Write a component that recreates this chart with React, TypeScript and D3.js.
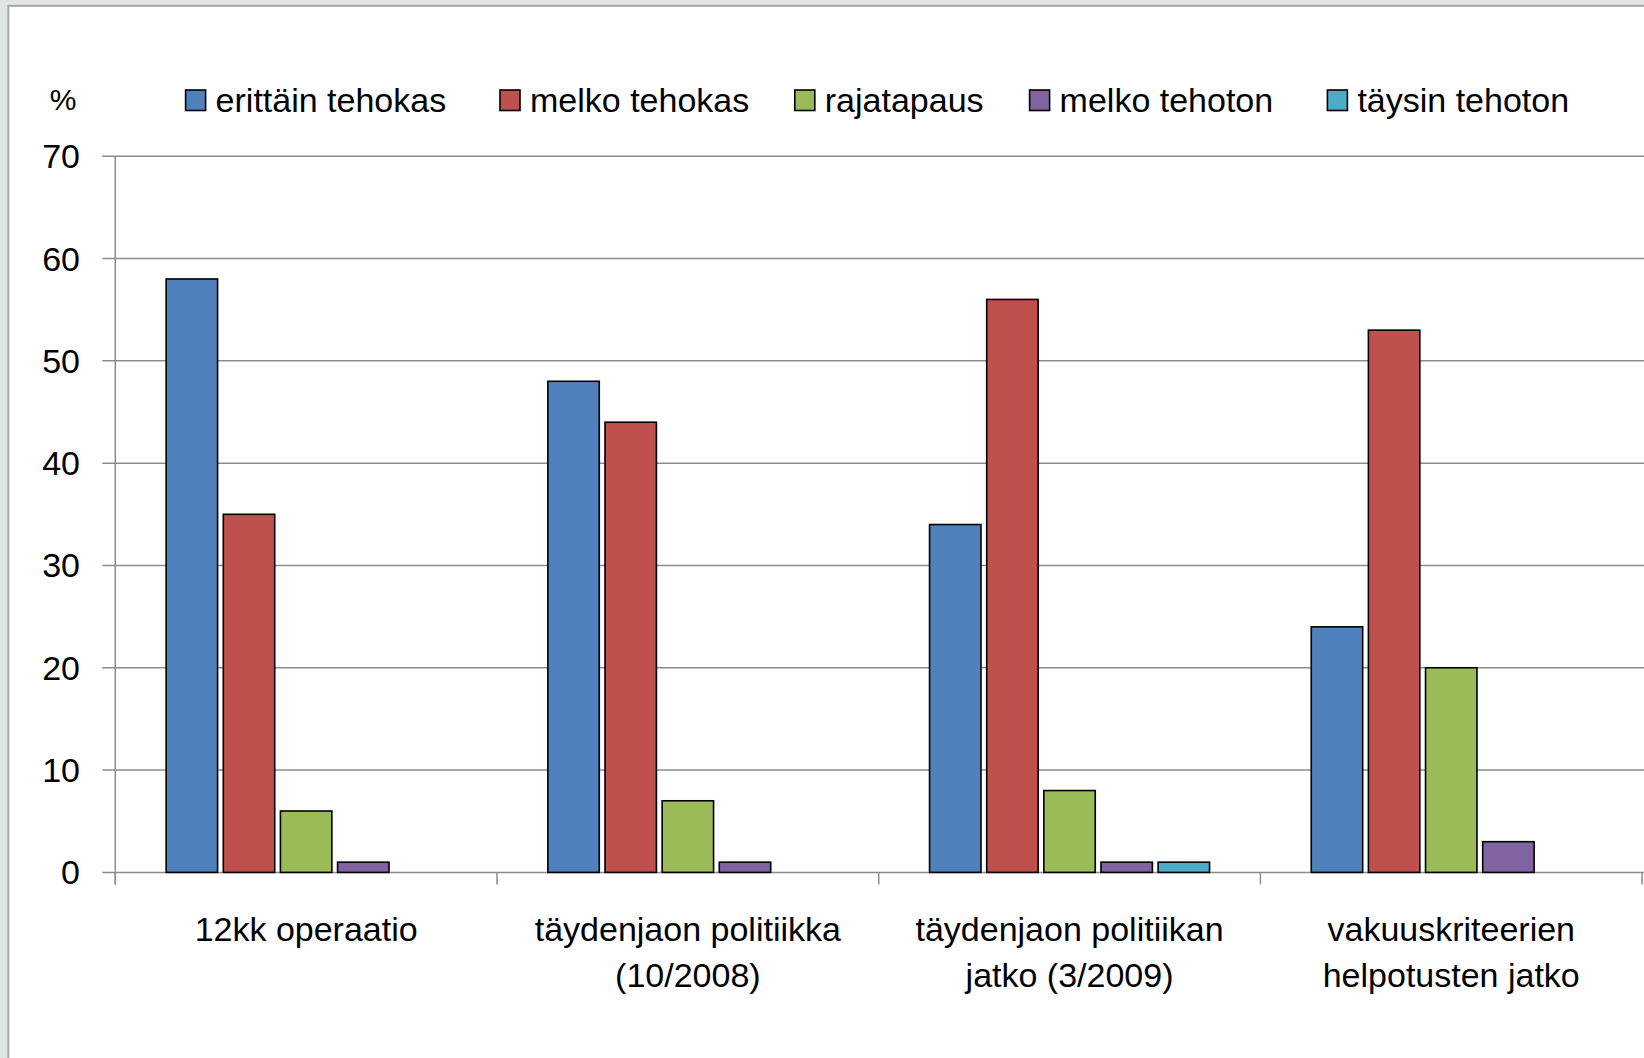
import React from "react";
import * as d3 from "d3";

const categories: string[][] = [
  ["12kk operaatio"],
  ["täydenjaon politiikka", "(10/2008)"],
  ["täydenjaon politiikan", "jatko (3/2009)"],
  ["vakuuskriteerien", "helpotusten jatko"],
];
const seriesNames = ["erittäin tehokas", "melko tehokas", "rajatapaus", "melko tehoton", "täysin tehoton"];
const seriesColors = ["#4f81bd", "#c0504d", "#9bbb59", "#8064a2", "#4bacc6"];
const erittainTehokas = [58, 48, 34, 24];
const melkoTehokas = [35, 44, 56, 53];
const rajatapaus = [6, 7, 8, 20];
const melkoTehoton = [1, 1, 1, 3];
const taysinTehoton = [0, 0, 1, 0];
const yTicks = [0, 10, 20, 30, 40, 50, 60, 70];
const legendX = [185.6, 500, 794.8, 1029.6, 1327.4];

const W = 1644;
const H = 1058;
const FONT = "'Liberation Sans', Arial, sans-serif";

export default function App() {
  const values = [erittainTehokas, melkoTehokas, rajatapaus, melkoTehoton, taysinTehoton];
  const left = 115.3;
  const catW = 381.7;
  const x = d3.scaleBand<number>().domain(d3.range(categories.length)).range([left, left + catW * categories.length]).padding(0);
  const inner = d3.scaleBand<number>().domain(d3.range(seriesNames.length)).range([0, x.bandwidth()]).paddingInner(0.1).paddingOuter(0.89);
  const y = d3.scaleLinear().domain([0, 70]).range([872.4, 156.2]);
  const y0 = y(0);

  return (
    <svg width={W} height={H} style={{ position: "absolute", left: 0, top: 0, display: "block" }} fontFamily={FONT}>
      <rect x={0} y={0} width={W} height={H} fill="#e3e5e4" />
      <rect x={8.4} y={5.8} width={W + 20} height={H + 20} fill="#ffffff" stroke="#a6a6a6" strokeWidth={2} />
      {/* gridlines */}
      {yTicks.map((t) => (
        <line key={"g" + t} x1={left - 13} x2={W} y1={y(t)} y2={y(t)} stroke="#8c8c8c" strokeWidth={1.5} />
      ))}
      {/* y axis */}
      <line x1={left} x2={left} y1={y(70)} y2={y0 + 12} stroke="#8c8c8c" strokeWidth={1.5} />
      {/* x ticks */}
      {d3.range(categories.length + 1).map((i) => (
        <line key={"xt" + i} x1={left + catW * i} x2={left + catW * i} y1={y0} y2={y0 + 12} stroke="#8c8c8c" strokeWidth={1.5} />
      ))}
      {/* y labels */}
      {yTicks.map((t) => (
        <text key={"yl" + t} x={80} y={y(t)} textAnchor="end" dominantBaseline="central" fontSize={34} fill="#000">
          {t}
        </text>
      ))}
      {/* bars */}
      {values.map((vals, s) =>
        vals.map((v, c) =>
          v > 0 ? (
            <rect
              key={`b${s}-${c}`}
              x={(x(c) as number) + (inner(s) as number)}
              y={y(v)}
              width={inner.bandwidth()}
              height={y0 - y(v)}
              fill={seriesColors[s]}
              stroke="#000"
              strokeWidth={1.6}
            />
          ) : null
        )
      )}
      {/* category labels */}
      {categories.map((lines, c) =>
        lines.map((ln, li) => (
          <text
            key={`c${c}-${li}`}
            x={(x(c) as number) + x.bandwidth() / 2}
            y={929 + li * 46}
            textAnchor="middle"
            dominantBaseline="central"
            fontSize={34}
            fill="#000"
          >
            {ln}
          </text>
        ))
      )}
      {/* % label */}
      <text x={63} y={99.6} textAnchor="middle" dominantBaseline="central" fontSize={30} fill="#000">
        %
      </text>
      {/* legend */}
      {seriesNames.map((n, i) => (
        <g key={"lg" + i}>
          <rect x={legendX[i]} y={90} width={20} height={20.5} fill={seriesColors[i]} stroke="#000" strokeWidth={1.6} />
          <text x={legendX[i] + 30} y={99.6} dominantBaseline="central" fontSize={34} fill="#000">
            {n}
          </text>
        </g>
      ))}
    </svg>
  );
}
